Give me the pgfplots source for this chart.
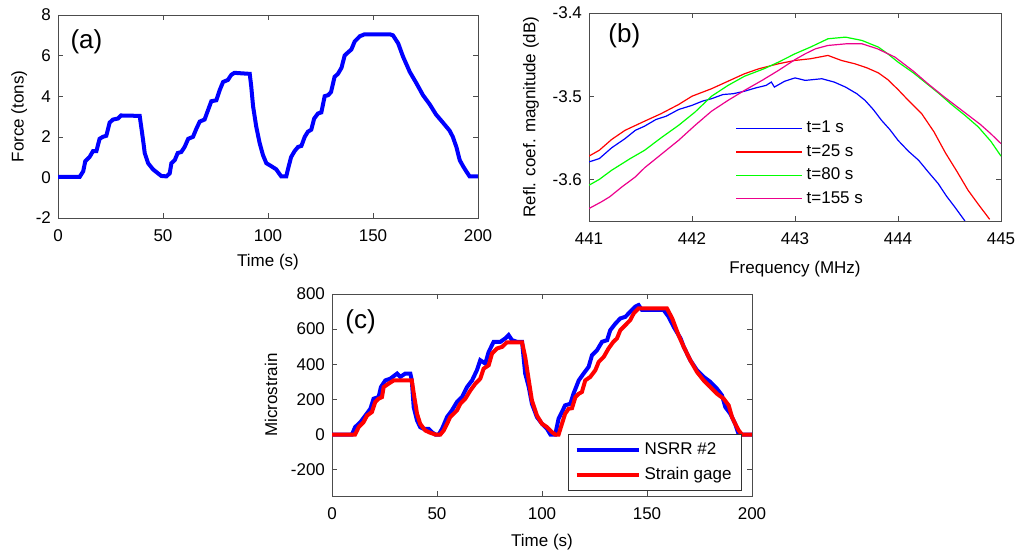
\documentclass[border=0pt]{standalone}
\usepackage{pgfplots}
\pgfplotsset{compat=1.18}
\usepackage{fontspec}
\setmainfont{Liberation Sans}
\begin{document}
\begin{tikzpicture}
\pgfplotsset{
  mat/.style={
    scale only axis,
    axis line style={black!70},
    tick style={black!70},
    major tick length=2.5pt,
    tick align=inside,
    xtick pos=both, ytick pos=both,
    /pgf/number format/assume math mode=true,
    tick label style={font=\fontsize{8.5}{10}\selectfont},
    xticklabel style={yshift=-2.5pt},
    label style={font=\fontsize{8.5}{10}\selectfont},
    clip=true,
  }
}
\path (0,0) rectangle (512pt,276.5pt);
% ---------- (a)
\begin{axis}[mat, at={(29pt,167.5pt)}, anchor=south west,
  width=210pt, height=101.5pt,
  xmin=0, xmax=200, ymin=-2, ymax=8,
  xtick={0,50,...,200}, ytick={-2,0,...,8},
  xlabel={Time (s)}, ylabel={Force (tons)},
  xlabel style={yshift=1pt}, ylabel style={yshift=-2.5pt}]
\addplot[blue, line width=2pt] coordinates {
(0,0.02)(10.3,0.02)(12,0.3)(13,0.8)(15,1.0)(16.7,1.3)(18.3,1.3)(19.8,1.9)(21.4,2.0)(23,2.05)(24.6,2.7)(26.2,2.85)(28.6,2.9)(30,3.05)(38.9,3.03)(40.5,1.85)(41.3,1.2)(42.9,0.7)(45.2,0.4)(47.6,0.2)(49.2,0.07)(51.6,0.05)(53.2,0.2)(54,0.7)(55.6,0.85)(57,1.2)(58.7,1.25)(60.3,1.5)(62,1.9)(64.3,2.0)(65.9,2.4)(67.5,2.75)(69.8,2.85)(71.4,3.3)(73,3.75)(75.4,3.8)(77,4.3)(78.6,4.7)(80.9,4.8)(82.5,5.05)(84,5.15)(91.3,5.1)(92,4.5)(92.9,3.5)(94.4,2.5)(96,1.7)(97.6,1.1)(99.2,0.7)(101.6,0.55)(103.9,0.4)(105.6,0.15)(106.3,0.05)(108.7,0.05)(109.5,0.4)(111,1.0)(112.7,1.3)(114.3,1.5)(115.9,1.55)(117.5,2.0)(119,2.25)(120.6,2.35)(122,2.9)(123.8,3.15)(125.4,3.2)(127,4.0)(128.6,4.05)(130,4.2)(131.7,4.95)(133.3,5.1)(135,5.4)(136.5,6.0)(138,6.15)(139.7,6.3)(141.3,6.7)(143.7,6.95)(146,7.05)(158,7.05)(159.5,7.0)(162,6.6)(164.3,5.95)(167.5,5.2)(170.6,4.65)(173.8,4.05)(177,3.6)(180,3.1)(183.3,2.7)(186.5,2.3)(188,2.0)(189.7,1.5)(191.3,0.85)(192.9,0.55)(194.4,0.3)(196,0.05)(200,0.05)};
\node[font=\fontsize{13}{15}\selectfont, anchor=west] at (rel axis cs:0.013,0.87) {(a)};
\end{axis}
% ---------- (b)
\begin{axis}[mat, at={(294.5pt,166pt)}, anchor=south west,
  width=206pt, height=104pt,
  xmin=441, xmax=445, ymin=-3.65, ymax=-3.4,
  xtick={441,...,445}, ytick={-3.6,-3.5,-3.4},
  yticklabel style={/pgf/number format/.cd, fixed, precision=1, fixed zerofill},
  xticklabel style={/pgf/number format/.cd, 1000 sep={}},
  xlabel={Frequency (MHz)}, ylabel={Refl. coef. magnitude (dB)},
  xlabel style={yshift=-1pt},
  legend style={draw=none, fill=none, at={(rel axis cs:0.34,0.52)}, anchor=north west,
    font=\fontsize{8.5}{10}\selectfont, row sep=0.3pt},
  legend image code/.code={\draw[#1] (0pt,0pt) -- (33pt,0pt);},
  legend cell align=left]
\addplot[blue, line width=0.6pt] coordinates {(441,-3.579)(441.1,-3.575)(441.22,-3.562)(441.35,-3.551)(441.45,-3.541)(441.54,-3.536)(441.65,-3.528)(441.75,-3.524)(441.87,-3.516)(442,-3.511)(442.1,-3.506)(442.19,-3.503)(442.3,-3.498)(442.4,-3.497)(442.51,-3.494)(442.62,-3.490)(442.72,-3.487)(442.77,-3.483)(442.8,-3.489)(442.9,-3.482)(443.0,-3.478)(443.1,-3.481)(443.26,-3.479)(443.38,-3.483)(443.49,-3.489)(443.6,-3.497)(443.68,-3.505)(443.76,-3.516)(443.84,-3.529)(443.92,-3.540)(444.0,-3.553)(444.1,-3.566)(444.2,-3.577)(444.3,-3.592)(444.39,-3.605)(444.47,-3.620)(444.55,-3.633)(444.65,-3.650)};
\addlegendentry{t=1 s}
\addplot[color={rgb,255:red,255;green,0;blue,0}, line width=0.6pt] coordinates {(441,-3.572)(441.1,-3.565)(441.22,-3.552)(441.35,-3.541)(441.54,-3.530)(441.7,-3.521)(441.87,-3.510)(442.0,-3.500)(442.19,-3.491)(442.35,-3.482)(442.51,-3.473)(442.65,-3.467)(442.84,-3.461)(443.0,-3.457)(443.15,-3.455)(443.32,-3.451)(443.45,-3.457)(443.58,-3.461)(443.7,-3.466)(443.81,-3.472)(443.9,-3.480)(444.0,-3.492)(444.1,-3.505)(444.23,-3.521)(444.35,-3.543)(444.46,-3.568)(444.57,-3.590)(444.68,-3.613)(444.78,-3.630)(444.89,-3.648)};
\addlegendentry{t=25 s}
\addplot[green, line width=0.6pt] coordinates {(441,-3.607)(441.1,-3.600)(441.22,-3.589)(441.4,-3.575)(441.54,-3.565)(441.7,-3.550)(441.87,-3.535)(442.03,-3.519)(442.19,-3.500)(442.35,-3.487)(442.51,-3.476)(442.7,-3.467)(442.84,-3.459)(443.0,-3.449)(443.15,-3.441)(443.32,-3.431)(443.49,-3.429)(443.65,-3.433)(443.81,-3.441)(443.9,-3.449)(444.0,-3.459)(444.15,-3.472)(444.29,-3.486)(444.4,-3.497)(444.52,-3.510)(444.65,-3.523)(444.78,-3.537)(444.9,-3.554)(445,-3.572)};
\addlegendentry{t=80 s}
\addplot[magenta, line width=0.6pt] coordinates {(441,-3.635)(441.12,-3.627)(441.2,-3.621)(441.32,-3.609)(441.45,-3.597)(441.54,-3.586)(441.7,-3.570)(441.87,-3.553)(442.03,-3.535)(442.19,-3.518)(442.35,-3.505)(442.51,-3.493)(442.68,-3.481)(442.84,-3.469)(443.0,-3.456)(443.1,-3.449)(443.2,-3.443)(443.32,-3.439)(443.5,-3.437)(443.65,-3.437)(443.8,-3.443)(443.97,-3.453)(444.15,-3.470)(444.29,-3.485)(444.45,-3.501)(444.62,-3.517)(444.8,-3.534)(444.9,-3.545)(445,-3.557)};
\addlegendentry{t=155 s}
\node[font=\fontsize{13}{15}\selectfont, anchor=west] at (rel axis cs:0.03,0.89) {(b)};
\end{axis}
% ---------- (c)
\begin{axis}[mat, at={(166pt,28.5pt)}, anchor=south west,
  width=210pt, height=101pt,
  xmin=0, xmax=200, ymin=-350, ymax=800,
  xtick={0,50,...,200}, ytick={-200,0,...,800},
  xlabel={Time (s)}, ylabel={Microstrain},
  legend style={draw=black!80, fill=white, at={(rel axis cs:0.976,0.307)}, anchor=north east,
    font=\fontsize{8.5}{10}\selectfont, row sep=1pt, inner xsep=3pt},
  legend image code/.code={\draw[#1] (0pt,0pt) -- (31pt,0pt);},
  legend cell align=left]
\addplot[blue, line width=2pt] coordinates {(0,0)(9.5,0)(11,42)(13.5,70)(15.9,108)(18.3,147)(19.8,204)(22.2,213)(23.3,270)(25.4,308)(27.8,318)(31,347)(32.5,328)(34.9,347)(37.3,347)(38,308)(38.9,156)(40.5,80)(42,42)(43.7,32)(46,32)(47.6,13)(49.2,0)(50.8,0)(52.4,32)(54.8,100)(57.1,137)(59.5,185)(61.9,213)(64.3,270)(66.7,308)(69,366)(70.6,423)(73,404)(74.6,470)(77,528)(80.2,528)(82.5,547)(84.1,566)(85.7,537)(88,528)(90.5,528)(92,347)(93.7,270)(95.2,175)(97.6,99)(100,61)(102.4,32)(104,0)(106.3,0)(107.9,90)(109.5,128)(111,166)(113.5,175)(115,232)(117.5,308)(119.8,347)(122.2,385)(123.8,451)(126.2,480)(128.6,528)(131,537)(132.5,594)(135,632)(137.3,661)(139.7,670)(142,699)(144.4,728)(146,737)(147.6,709)(157.9,709)(160.3,670)(162.7,613)(166,547)(167.5,499)(170.6,423)(173.8,366)(177,328)(180.2,299)(183.3,261)(185.7,223)(187.3,156)(189.7,118)(192,61)(193.7,0)(200,0)};
\addlegendentry{NSRR \#2}
\addplot[red, line width=2pt] coordinates {(0,0)(11,0)(12.7,42)(15,70)(16.7,108)(19,128)(20.6,185)(22.2,204)(23.8,213)(24.6,270)(27,290)(29.4,308)(38,308)(39.2,213)(40.5,118)(42,61)(44.4,23)(46.8,10)(49.2,0)(51.6,0)(53.2,23)(54.8,61)(56.3,100)(57.9,118)(59.5,137)(61.1,175)(63.5,204)(65.9,251)(68.3,290)(70.6,318)(72.2,375)(74.6,394)(76.2,461)(78.6,490)(81,499)(83.3,525)(90.5,525)(92,442)(93.7,309)(95.2,194)(97.6,108)(100,61)(102.4,42)(104.8,13)(106.3,0)(107.9,0)(109.5,61)(111,118)(112.7,147)(114.3,150)(115.9,213)(117.5,232)(119,242)(120.6,308)(123,328)(125.4,366)(127,413)(129.4,442)(131.7,490)(134,528)(135.7,547)(137.3,594)(139.7,623)(142,651)(143.7,690)(146,718)(159.5,718)(162,661)(165,566)(167.5,499)(170.6,423)(173.8,356)(177,308)(180.2,270)(183.3,232)(186.5,204)(188.9,166)(190.5,99)(192,61)(193.7,23)(195.2,0)(200,0)};
\addlegendentry{Strain gage}
\node[font=\fontsize{13}{15}\selectfont, anchor=west] at (rel axis cs:0.015,0.86) {(c)};
\end{axis}
\end{tikzpicture}
\end{document}
